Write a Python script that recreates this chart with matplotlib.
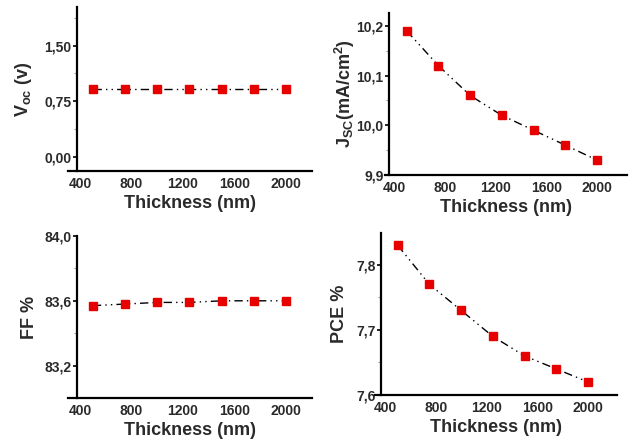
import numpy as np
import matplotlib
matplotlib.use("Agg")
import matplotlib.pyplot as plt
from matplotlib.ticker import FuncFormatter, MultipleLocator

plt.rcParams['font.family'] = ['Liberation Sans', 'DejaVu Sans']
plt.rcParams['font.weight'] = 'bold'
plt.rcParams['mathtext.fontset'] = 'custom'
plt.rcParams['mathtext.rm'] = 'Liberation Sans:bold'
plt.rcParams['mathtext.it'] = 'Liberation Sans:bold'
plt.rcParams['mathtext.bf'] = 'Liberation Sans:bold'

thickness = [500, 750, 1000, 1250, 1500, 1750, 2000]
voc = [0.91, 0.91, 0.91, 0.91, 0.91, 0.91, 0.91]
jsc = [10.19, 10.12, 10.06, 10.02, 9.99, 9.96, 9.93]
ff = [83.57, 83.58, 83.59, 83.59, 83.60, 83.60, 83.60]
pce = [7.83, 7.77, 7.73, 7.69, 7.66, 7.64, 7.62]

W, H = 640, 442
fig = plt.figure(figsize=(W / 100, H / 100), dpi=100)

TXT = '#2a2a2a'


def make_ax(px_left, px_right, px_top, px_bot):
    return fig.add_axes([px_left / W, 1 - px_bot / H,
                         (px_right - px_left) / W, (px_bot - px_top) / H])


def comma(dec):
    return FuncFormatter(lambda v, p: f"{v:.{dec}f}".replace('.', ','))


panels = [
    # (pixel box, xlim, spine x, y values, ylim, major, minor, decimals, ylabel, ylabel x)
    ((68, 312, 7, 171), (307, 2202), 377, voc, (-0.19, 2.02), 0.75, 0.375, 2,
     r'V$_{oc}$ (v)', 24),
    ((385, 627, 13, 175), (329, 2236), 361, jsc, (9.9, 10.226), 0.1, 0.05, 1,
     r'J$_{SC}$(mA/cm$^2$)', 345),
    ((68, 312, 236, 398), (307, 2202), 377, ff, (83.0, 84.0), 0.4, 0.2, 1,
     'FF %', 30),
    ((375, 617, 233, 395), (321, 2228), 369, pce, (7.6, 7.849), 0.1, 0.05, 1,
     'PCE %', 340),
]

for box, xlim, sx, vals, ylim, major, minor, dec, ylab, ylx in panels:
    ax = make_ax(*box)
    ax.plot(thickness, vals, color='black', lw=1.0,
            linestyle=(0, (6, 3, 1, 3, 1, 3)), zorder=2)
    ax.plot(thickness, vals, linestyle='none', marker='s', markersize=6,
            color='#e60000', zorder=3)
    ax.set_xlim(*xlim)
    ax.set_ylim(*ylim)
    ax.spines['top'].set_visible(False)
    ax.spines['right'].set_visible(False)
    ax.spines['left'].set_position(('data', sx))
    ax.spines['left'].set_linewidth(1.6)
    ax.spines['bottom'].set_linewidth(1.6)
    ax.set_xticks([400, 800, 1200, 1600, 2000])
    ax.yaxis.set_major_locator(MultipleLocator(major))
    ax.yaxis.set_minor_locator(MultipleLocator(minor))
    ax.yaxis.set_major_formatter(comma(dec))
    ax.tick_params(axis='x', length=0, pad=4, labelsize=10, labelcolor=TXT)
    ax.tick_params(axis='y', which='major', direction='out', length=3,
                   width=1.2, labelsize=10, labelcolor=TXT, pad=1)
    ax.tick_params(axis='y', which='minor', direction='out', length=2,
                   width=0.8, color='#999999')
    for lbl in ax.get_xticklabels() + ax.get_yticklabels():
        lbl.set_fontweight('bold')
    ax.set_xlabel('Thickness (nm)', fontsize=13, fontweight='bold',
                  color=TXT, labelpad=3)
    bx0, bx1, by0, by1 = box
    fig.text(ylx / W, 1 - ((by0 + by1) / 2) / H, ylab, rotation=90,
             ha='center', va='center', fontsize=13, fontweight='bold',
             color=TXT)

fig.savefig('out.png', dpi=100)
